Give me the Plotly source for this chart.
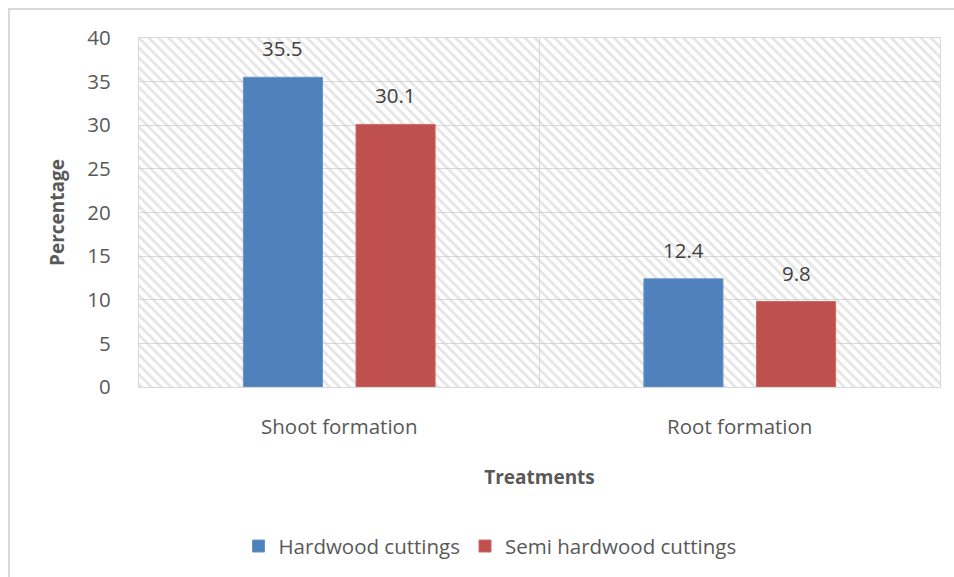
import plotly.graph_objects as go

categories = ["Shoot formation", "Root formation"]
hardwood = [35.5, 12.4]
semi_hardwood = [30.1, 9.8]
series_names = ["Hardwood cuttings", "Semi hardwood cuttings"]
colors = ["#4F81BD", "#C0504D"]
edges = ["#6a95c9", "#cc6a68"]
y_ticks = [0, 5, 10, 15, 20, 25, 30, 35, 40]

FONT = "'Open Sans', sans-serif"
GRID = "#d9d9d9"
FS = 20.5
BARGAP = 0.4375
BARGROUPGAP = 0.298
L, R, T, B, W, H = 139, 14, 38, 189, 954, 577

fig = go.Figure()

# hatched plot-area background (main axes, drawn below bars)
fig.add_trace(go.Scatter(
    x=[0, 1, 1, 0, 0], y=[0, 0, 1, 1, 0], mode="lines", fill="toself",
    line=dict(width=0), fillcolor="rgba(0,0,0,0)",
    fillpattern=dict(shape="\\", fgcolor="#cccccc", bgcolor="rgba(0,0,0,0)",
                     size=7, solidity=0.4),
    hoverinfo="skip", showlegend=False, xaxis="x", yaxis="y"))

series = [hardwood, semi_hardwood]
for vals, name, col, edge in zip(series, series_names, colors, edges):
    fig.add_trace(go.Bar(
        x=categories, y=vals, name=name,
        marker=dict(color=col, line=dict(color=edge, width=1)),
        xaxis="x2", yaxis="y2"))

# value labels above bars, offset to each bar's slot within its group
plot_w = W - L - R
slot_px = plot_w / len(categories) * (1 - BARGAP) / len(series)
annotations = []
for si, vals in enumerate(series):
    shift = (si - (len(series) - 1) / 2) * slot_px
    for cat, v in zip(categories, vals):
        annotations.append(dict(
            x=cat, y=v, xref="x2", yref="y2", text=f"{v:.1f}",
            showarrow=False, xshift=shift, yanchor="bottom", yshift=13,
            font=dict(size=FS, color="#404040", family=FONT)))

fig.update_layout(
    width=W, height=H,
    margin=dict(l=L, r=R, t=T, b=B),
    paper_bgcolor="white", plot_bgcolor="white",
    font=dict(family=FONT, color="#595959", size=FS),
    barmode="group", bargap=BARGAP, bargroupgap=BARGROUPGAP,
    xaxis=dict(range=[0, 1], visible=False, showgrid=False, zeroline=False,
               fixedrange=True),
    yaxis=dict(range=[0, 1], visible=False, showgrid=False, zeroline=False,
               fixedrange=True),
    xaxis2=dict(overlaying="x", side="bottom", type="category",
                tickson="boundaries", showgrid=True, gridcolor=GRID,
                gridwidth=1.3, ticks="", showline=True, linecolor=GRID,
                linewidth=1.3, mirror=True, ticklabelstandoff=21,
                tickfont=dict(size=FS, color="#595959"),
                title=dict(text="<b>Treatments</b>", standoff=31,
                           font=dict(size=19, color="#595959"))),
    yaxis2=dict(overlaying="y", side="left", range=[0, 40], tickvals=y_ticks,
                showgrid=True, gridcolor=GRID, gridwidth=1.3, zeroline=False,
                showline=True, linecolor=GRID, linewidth=1.3, mirror=True,
                ticks="", ticklabelstandoff=23,
                tickfont=dict(size=FS, color="#595959"),
                title=dict(text="<b>Percentage</b>", standoff=17,
                           font=dict(size=19, color="#595959"))),
    legend=dict(orientation="h", x=(490 - L) / plot_w, xanchor="center",
                y=-0.452, yanchor="middle", font=dict(size=FS, color="#595959"),
                itemwidth=30, traceorder="normal"),
    annotations=annotations,
    shapes=[dict(type="rect", xref="paper", yref="paper",
                 x0=(9 - L) / plot_w, x1=(990 - L) / plot_w,
                 y0=(388 - 620) / 350, y1=(388 - 9) / 350,
                 line=dict(color="#d9d9d9", width=2), fillcolor="rgba(0,0,0,0)",
                 layer="below")],
)

fig.write_html("out.html")
